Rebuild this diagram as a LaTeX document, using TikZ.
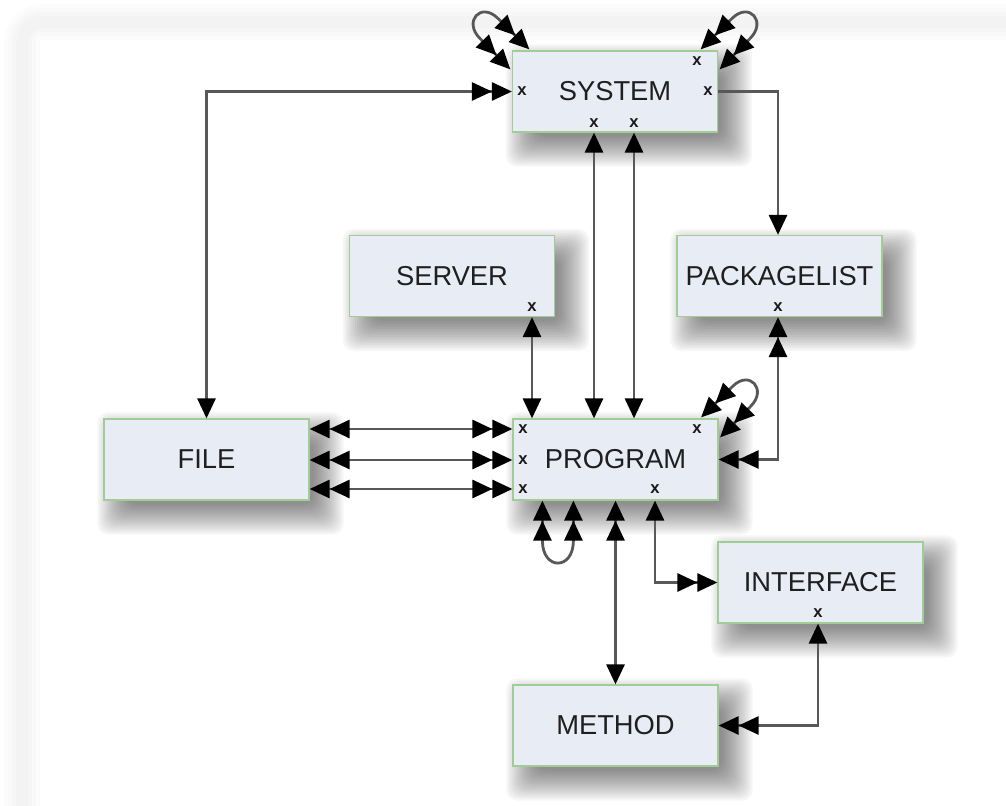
\documentclass[tikz,border=0pt]{standalone}
\usepackage{fontspec}
\setmainfont{Liberation Sans}
\usetikzlibrary{arrows.meta,calc,backgrounds}
\definecolor{boxfill}{RGB}{232,236,244}
\definecolor{boxline}{RGB}{160,204,150}
\definecolor{conncol}{RGB}{88,88,88}
\tikzset{
  entity/.style={draw=boxline, line width=0.9pt, fill=boxfill, minimum width=153.75pt, minimum height=60.75pt, inner sep=0pt, font=\fontsize{20.5}{24}\selectfont, text=black!88},
  mk/.style={font=\fontsize{12.5}{13}\selectfont\bfseries, inner sep=0pt, text=black!90},
  conn/.style={draw=conncol, line width=2.1pt},
  >={Triangle[length=15pt,width=13.5pt,color=black]},
  shadowlayer/.style={fill=black, opacity=0.034, rounded corners=8pt},
  framelayer/.style={draw=black, opacity=0.013, rounded corners=15pt},
}
\begin{document}
\begin{tikzpicture}[x=0.75pt,y=-0.75pt]
\useasboundingbox (0,0) rectangle (1006,806);
% boxes
\node[entity] (system) at (615,91.5) {SYSTEM};
\node[entity] (server) at (452,276) {SERVER};
\node[entity] (pkg) at (779.5,276) {PACKAGELIST};
\node[entity] (file) at (206.5,459.5) {FILE};
\node[entity] (program) at (615.5,459.5) {PROGRAM};
\node[entity] (interface) at (820.5,582.5) {INTERFACE};
\node[entity] (method) at (615.5,725.5) {METHOD};
% markers
\node[mk] (sysx1) at (522,91) {x};
\node[mk] (sysx2) at (708,91) {x};
\node[mk] (sysx3) at (697,61) {x};
\node[mk] (sysx4) at (594,123) {x};
\node[mk] (sysx5) at (634,123) {x};
\node[mk] (srvx) at (532,307) {x};
\node[mk] (pkgx) at (778,307) {x};
\node[mk] (prgx1) at (523,429) {x};
\node[mk] (prgx2) at (523,460) {x};
\node[mk] (prgx3) at (523,489) {x};
\node[mk] (prgx4) at (697,429) {x};
\node[mk] (prgx5) at (655,489) {x};
\node[mk] (ifcx) at (818,613) {x};
% background frame and shadows
\begin{scope}[on background layer]
  \foreach \w in {36,28,20,12}{
    \draw[framelayer, line width=\w*0.75pt] (22,22) rectangle (1060,860);
  }
  \foreach \n in {system,server,pkg,file,program,interface,method}{
    \foreach \e in {-10,-8,...,20}{
      \fill[shadowlayer] ($(\n.north west)+({14-(\e)},{14-(\e)})$) rectangle ($(\n.south east)+({14+\e},{14+\e})$);
    }
  }
\end{scope}
% connectors
\draw[conn,<->>] (file.north) |- (system.west);
\draw[conn,->] (system.east) -| (pkgx |- pkg.north);
\draw[conn,<->] (sysx4 |- system.south) -- (sysx4 |- program.north);
\draw[conn,<->] (sysx5 |- system.south) -- (sysx5 |- program.north);
\draw[conn,<->] (srvx |- server.south) -- (srvx |- program.north);
\draw[conn,<<->>] (pkgx |- pkg.south) |- (program.east);
\draw[conn,<<->>] (file.east |- prgx1) -- (program.west |- prgx1);
\draw[conn,<<->>] (file.east |- prgx2) -- (program.west |- prgx2);
\draw[conn,<<->>] (file.east |- prgx3) -- (program.west |- prgx3);
\draw[conn,<<->] (program.south) -- (method.north);
\draw[conn,<->>] (prgx5 |- program.south) |- (interface.west);
\draw[conn,<->>] (ifcx |- interface.south) |- (method.east);
% self loops
\begin{scope}[shift={(system.north east)}]
  \draw[conn,<<->>] (1.5,19) -- (32,-12) .. controls (49,-29) and (31,-49) .. (14,-32) -- (-17.5,-1);
\end{scope}
\begin{scope}[shift={(system.north west)}]
  \draw[conn,<<->>] (-1.5,19) -- (-32,-12) .. controls (-49,-29) and (-31,-49) .. (-14,-32) -- (17.5,-1);
\end{scope}
\begin{scope}[shift={(program.north east)}]
  \draw[conn,<<->>] (1.5,19) -- (32,-12) .. controls (49,-29) and (31,-49) .. (14,-32) -- (-17.5,-1);
\end{scope}
\begin{scope}[shift={(program.south west)}]
  \draw[conn,<<->>] (30,0) -- (30,40) .. controls (30,70) and (61,70) .. (61,40) -- (61,0);
\end{scope}
\end{tikzpicture}
\end{document}
